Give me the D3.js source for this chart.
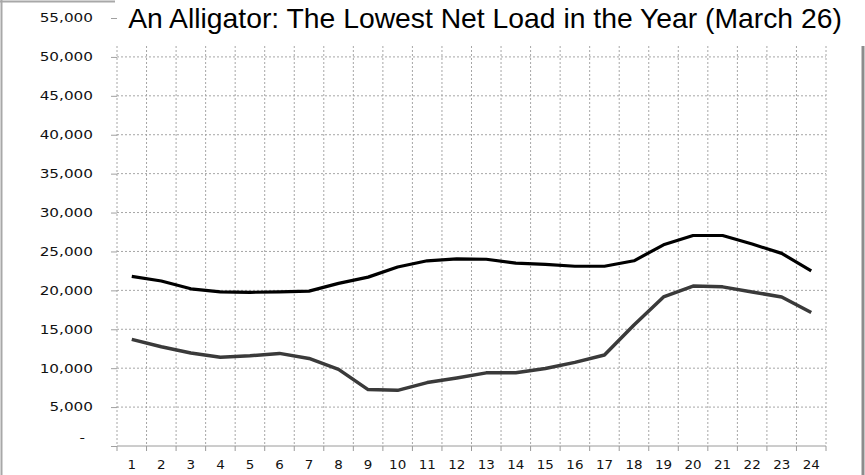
<!DOCTYPE html>
<html>
<head>
<meta charset="utf-8">
<script src="https://cdn.jsdelivr.net/npm/d3@7"></script>
<style>
 body { margin:0; background:#fff; }
 svg { display:block; }
</style>
</head>
<body>
<div id="chart"></div>
<script>
// hours of the day (x categories)
const hours = d3.range(1, 25);

// total load (black line) and net load (gray line), MW
const load = [21800, 21200, 20200, 19800, 19750, 19800, 19900, 20900, 21700, 23000, 23800, 24050,
              24000, 23500, 23350, 23100, 23100, 23800, 25850, 27050, 27050, 25950, 24750, 22500];
const netLoad = [13700, 12750, 11950, 11400, 11600, 11900, 11250, 9850, 7250, 7150, 8150, 8750,
                 9400, 9400, 9950, 10750, 11700, 15550, 19150, 20550, 20450, 19800, 19150, 17150];

// y tick values
const yTicks = d3.range(0, 55001, 5000);

const titleText = 'An Alligator: The Lowest Net Load in the Year (March 26)';

const width = 865, height = 475;
const plot = {left:117, right:826, top:18, bottom:446};

const svg = d3.select('#chart').append('svg')
    .attr('width', width)
    .attr('height', height);

// chart border (partly hidden behind the title box)
svg.append('line')
    .attr('x1',1.5).attr('x2',1.5).attr('y1',0).attr('y2',height)
    .attr('stroke','#a8a8a8').attr('stroke-width',2);
svg.append('line')
    .attr('x1',0).attr('x2',120).attr('y1',1.5).attr('y2',1.5)
    .attr('stroke','#a8a8a8').attr('stroke-width',2);
svg.append('line')
    .attr('x1',863).attr('x2',863).attr('y1',0).attr('y2',height)
    .attr('stroke','#8c8c8c').attr('stroke-width',3);

// scales
const xScale = d3.scaleBand()
    .domain(hours)
    .range([plot.left, plot.right])
    .padding(0);

const yScale = d3.scaleLinear()
    .domain([0, 55000])
    .range([plot.bottom, plot.top]);

const xCenter = d => xScale(d) + xScale.bandwidth()/2;
const boundaries = hours.map(h => xScale(h)).concat([xScale.range()[1]]);

// grid lines
const grid = svg.append('g').attr('class','grid');

grid.selectAll('.hgrid')
    .data(yTicks.filter(d => d > 0))
    .join('line')
    .attr('class','hgrid')
    .attr('x1', plot.left).attr('x2', plot.right)
    .attr('y1', d => yScale(d)).attr('y2', d => yScale(d))
    .attr('stroke','#a6a6a6')
    .style('stroke-dasharray','2 2');

grid.selectAll('.vgrid')
    .data(boundaries)
    .join('line')
    .attr('class','vgrid')
    .attr('x1', d => d).attr('x2', d => d)
    .attr('y1', plot.top).attr('y2', plot.bottom)
    .attr('stroke','#a6a6a6')
    .style('stroke-dasharray','2 2');

// x axis line and tick marks at category boundaries
svg.append('line')
    .attr('x1', plot.left).attr('x2', plot.right)
    .attr('y1', plot.bottom).attr('y2', plot.bottom)
    .attr('stroke','#9a9a9a');

svg.append('g')
    .selectAll('line')
    .data(boundaries)
    .join('line')
    .attr('x1', d => d).attr('x2', d => d)
    .attr('y1', plot.bottom).attr('y2', plot.bottom + 5)
    .attr('stroke','#9a9a9a');

// lines
const lineLoad = d3.line()
    .x((d,i) => xCenter(hours[i]))
    .y(d => yScale(d));

svg.append('path')
    .datum(netLoad)
    .attr('fill','none')
    .attr('stroke','#3a3a3a')
    .attr('stroke-width',3.5)
    .attr('stroke-linejoin','round')
    .attr('d', lineLoad);

svg.append('path')
    .datum(load)
    .attr('fill','none')
    .attr('stroke','#000')
    .attr('stroke-width',3.2)
    .attr('stroke-linejoin','round')
    .attr('d', lineLoad);

// white title box covering the top of the plot area
svg.append('rect')
    .attr('x',115).attr('y',0)
    .attr('width', width - 115).attr('height',46)
    .attr('fill','#fff');

svg.append('text')
    .text(titleText)
    .attr('x',485)
    .attr('y',28)
    .attr('text-anchor','middle')
    .style('font-family','"Liberation Sans", Arial, sans-serif')
    .style('font-size','28.3px')
    .attr('fill','#000');

// y axis (labels only plus short ticks)
const yAxis = d3.axisLeft(yScale)
    .tickValues(yTicks)
    .tickSize(6)
    .tickPadding(18)
    .tickFormat(d => d === 0 ? '-' : d3.format(',')(d));

const yG = svg.append('g')
    .attr('transform', `translate(${plot.left},0)`)
    .call(yAxis);

// x axis labels centred in each category
const xAxis = d3.axisBottom(xScale)
    .tickSize(0)
    .tickPadding(14);

const xG = svg.append('g')
    .attr('transform', `translate(0,${plot.bottom})`)
    .call(xAxis);

[yG, xG].forEach(g => {
 g.select('.domain').remove();
 g.selectAll('.tick line').attr('stroke','#a0a0a0');
 g.selectAll('text')
     .style('font-family','"DejaVu Sans", Verdana, sans-serif')
     .style('font-size','12px')
     .attr('fill','#111');
});

// the zero label sits a bit higher and further left in the original
yG.selectAll('.tick text').filter(d => d === 0).attr('y', -8).attr('x', -32);

// the original labels are drawn wide, stretch them
function stretch(sel, factor){
 sel.each(function(){
  const w = this.getComputedTextLength();
  d3.select(this)
      .attr('textLength', w*factor)
      .attr('lengthAdjust','spacingAndGlyphs');
 });
}
stretch(yG.selectAll('.tick text'), 1.27);
stretch(xG.selectAll('.tick text'), 1.12);
</script>
</body>
</html>
